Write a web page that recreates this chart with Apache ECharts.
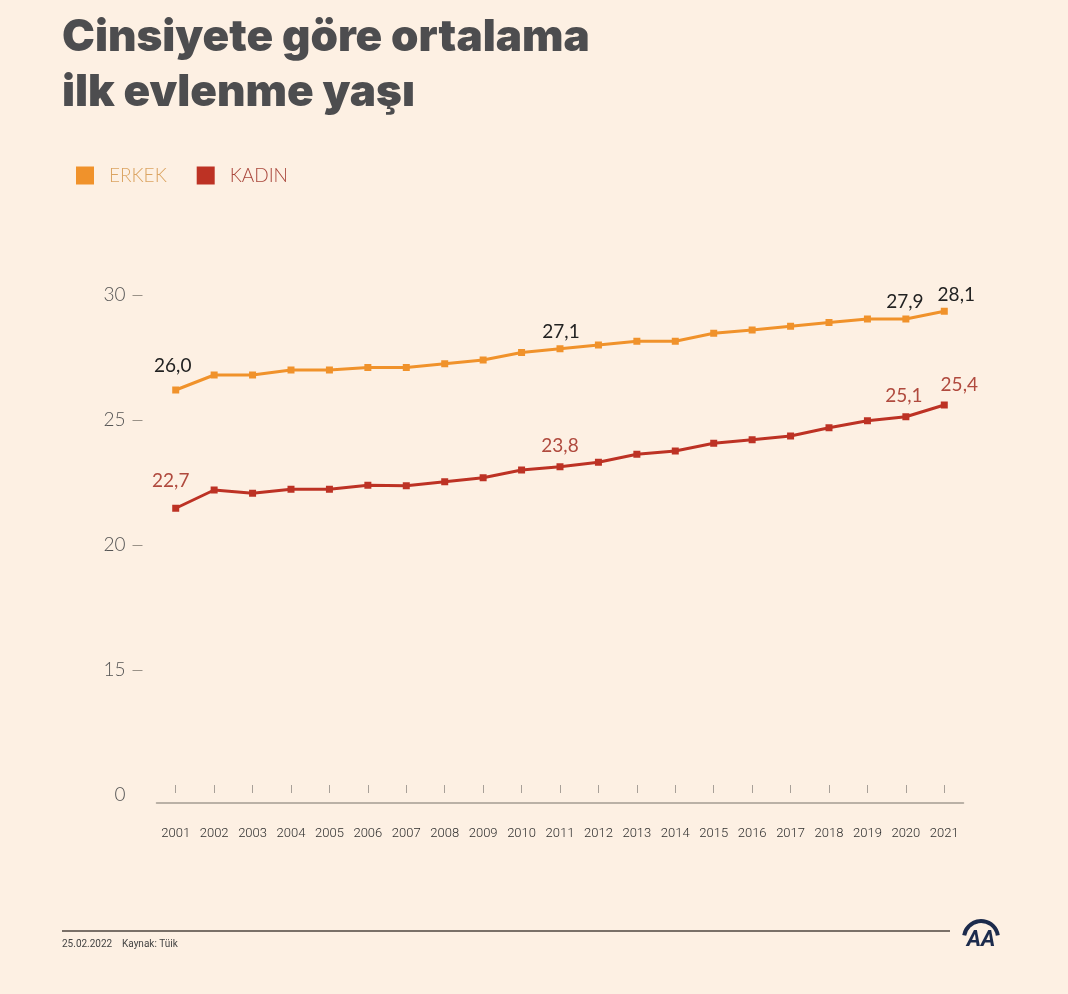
<!DOCTYPE html>
<html>
<head>
<meta charset="utf-8">
<script src="https://cdn.jsdelivr.net/npm/echarts@6/dist/echarts.min.js"></script>
<style>
html,body{margin:0;padding:0;background:#fdf0e3;}
#chart{width:1068px;height:994px;}
</style>
</head>
<body>
<div id="chart"></div>
<script>
// ---- data ----
const years = ['2001','2002','2003','2004','2005','2006','2007','2008','2009','2010','2011','2012','2013','2014','2015','2016','2017','2018','2019','2020','2021'];
const erkek = [26.2,26.8,26.8,27.0,27.0,27.1,27.1,27.25,27.4,27.7,27.85,28.0,28.15,28.15,28.47,28.6,28.75,28.9,29.04,29.04,29.35];
const kadin = [21.47,22.2,22.07,22.23,22.23,22.39,22.37,22.53,22.69,23.0,23.13,23.31,23.63,23.76,24.07,24.21,24.36,24.69,24.97,25.13,25.6];
const erkekLabels = {0:'26,0', 10:'27,1', 19:'27,9', 20:'28,1'};
const kadinLabels = {0:'22,7', 10:'23,8', 19:'25,1', 20:'25,4'};
const yTickValues = [10,15,20,25,30];
const yTickTexts = ['0','15','20','25','30'];
const seriesNames = ['ERKEK','KADIN'];
const titleText = 'Cinsiyete göre ortalama\nilk evlenme yaşı';
const footDate = '25.02.2022';
const footSource = 'Kaynak: Tüik';

// ---- styling ----
const ORANGE = '#f0922b', RED = '#bd3224';
const erkekOffsets = {0:[-3,-11], 10:[1,-4], 19:[-1,-4], 20:[12,-3]};
const kadinOffsets = {0:[-5,-14], 10:[0,-8], 19:[-2,-8], 20:[15,-7]};

function buildData(vals, labels, offsets, color){
  return vals.map((v,i)=>{
    if(labels[i] === undefined) return v;
    return {value:v, label:{show:true, position:'top', distance:0, offset:offsets[i],
      formatter:labels[i], color:color, fontSize:19, fontFamily:'Lato, Roboto, sans-serif'}};
  });
}

const chart = echarts.init(document.getElementById('chart'));
chart.setOption({
  backgroundColor:'#fdf0e3',
  animation:false,
  title:{text:titleText, left:57, top:5,
    textStyle:{fontSize:44, fontWeight:900, color:'#4d4d4f', lineHeight:55, fontFamily:'Inter, "Open Sans", sans-serif'}},
  legend:{left:71, top:161, itemWidth:18, itemHeight:18, itemGap:30, icon:'rect',
    textStyle:{fontSize:19, fontWeight:300, fontFamily:'Lato, Roboto, sans-serif', padding:[0,0,0,10]},
    data:[{name:seriesNames[0], textStyle:{color:'#dba462'}},{name:seriesNames[1], textStyle:{color:'#a9463b'}}]},
  grid:{left:156.5, right:104.5, top:295, bottom:199, containLabel:false},
  xAxis:[{type:'category', data:years, boundaryGap:true, position:'bottom', offset:8,
      axisLine:{lineStyle:{color:'#a49c92', width:1.5}},
      axisTick:{show:false},
      axisLabel:{interval:0, margin:24, fontSize:13, fontWeight:300, color:'#2e2e2e', fontFamily:'Roboto, sans-serif'}},
    {type:'category', data:years, boundaryGap:true, position:'bottom', offset:-2,
      axisLine:{show:false}, axisLabel:{show:false},
      axisTick:{show:true, inside:true, length:8, alignWithLabel:true, interval:0, lineStyle:{color:'#a8a098', width:1}}}],
  yAxis:{type:'value', min:10, max:30, interval:5, offset:14,
    axisLine:{show:false}, splitLine:{show:false},
    axisTick:{show:true, length:10, customValues:[15,20,25,30], lineStyle:{color:'#9a9288', width:1}},
    axisLabel:{margin:17, fontSize:19, fontWeight:300, color:'#555', fontFamily:'Lato, Roboto, sans-serif',
      customValues:yTickValues,
      formatter:(v)=>yTickTexts[yTickValues.indexOf(v)]}},
  series:[
    {name:seriesNames[0], type:'line', data:buildData(erkek, erkekLabels, erkekOffsets, '#222'),
      symbol:'rect', symbolSize:7, color:ORANGE, lineStyle:{width:3, color:ORANGE}, itemStyle:{color:ORANGE}},
    {name:seriesNames[1], type:'line', data:buildData(kadin, kadinLabels, kadinOffsets, '#b04a3e'),
      symbol:'rect', symbolSize:7, color:RED, lineStyle:{width:3, color:RED}, itemStyle:{color:RED}}
  ],
  graphic:[
    {type:'line', shape:{x1:62, y1:931, x2:950, y2:931}, style:{stroke:'#4e463f', lineWidth:1.5}},
    {type:'text', left:62, top:939, style:{text:footDate, fontSize:10, fill:'#444', fontFamily:'Roboto, sans-serif'}},
    {type:'text', left:122, top:939, style:{text:footSource, fontSize:10, fill:'#444', fontFamily:'Roboto, sans-serif'}},
    {type:'sector', shape:{cx:981, cy:938, r:19, r0:15, startAngle:Math.PI*1.05, endAngle:Math.PI*1.95}, style:{fill:'#1c2b4c'}},
    {type:'text', x:981, y:940, style:{text:'AA', fontSize:22, fontWeight:'bold', fontStyle:'italic', fill:'#1c2b4c', align:'center', verticalAlign:'middle', fontFamily:'Roboto, sans-serif'}}
  ]
});
</script>
</body>
</html>
